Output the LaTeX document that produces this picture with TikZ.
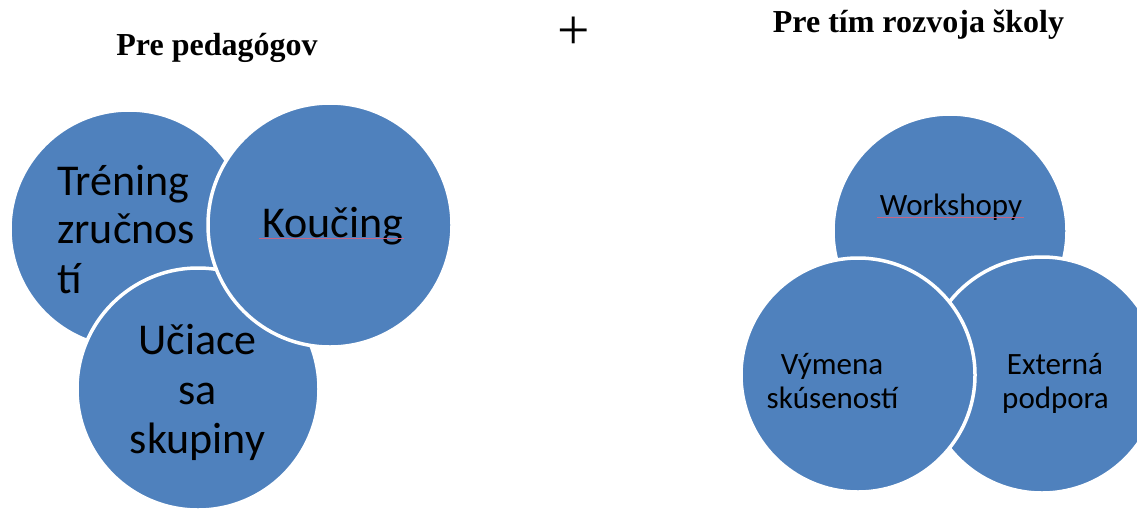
\documentclass[tikz,border=0pt]{standalone}
\usepackage{fontspec}
\setmainfont{Liberation Serif}
\newfontfamily\calib{Carlito}
\definecolor{bubble}{HTML}{4F81BD}
\definecolor{squig}{RGB}{200,100,130}
\begin{document}
\begin{tikzpicture}[x=1pt,y=-1pt,
  bub/.style={circle,fill=bubble,draw=white,line width=3.5pt,inner sep=0pt,outer sep=0pt},
  big/.style={font=\calib\fontsize{44}{50}\selectfont,inner sep=0pt,anchor=base,text=black},
  small/.style={font=\calib\fontsize{31}{34}\selectfont,inner sep=0pt,anchor=base,text=black},
  title/.style={font=\bfseries\fontsize{32}{36}\selectfont,inner sep=0pt,anchor=base},
  spell/.style={draw=squig,line width=0.5pt}]
\useasboundingbox (0,0) rectangle (1137,509);
\clip (0,0) rectangle (1137,509);
% titles
\node[title] (t1) at (217,55) {Pre pedagógov};
\node[title] (t2) at (918.5,32) {Pre tím rozvoja školy};
\node[font=\fontsize{57.5}{60}\selectfont,inner sep=0pt,anchor=base] (plus) at (573.5,49) {+};
% left group
\node[bub,minimum size=238pt] (tren) at (129,229) {};
\node[bub,minimum size=242pt] (uc) at (198,389) {};
\node[bub,minimum size=244pt] (kou) at (330,225) {};
\node[big,anchor=base west] (tren1) at (57,195) {Tréning};
\node[big,anchor=base west] (tren2) at (57,243) {zručnos};
\node[big,anchor=base west] (tren3) at (57,293) {tí};
\node[big] (kou1) at (333,237) {Koučing};
\coordinate (ks) at (259,238);
\coordinate (ke) at (404,238);
\draw[spell] (ks) -- (ke);
\node[big] (uc1) at (197.5,354) {Učiace};
\node[big] (uc2) at (197.5,404) {sa};
\node[big] (uc3) at (197.5,453) {skupiny};
% right group
\node[bub,minimum size=234pt] (work) at (950,231) {};
\node[bub,minimum size=236pt] (ext) at (1042,375) {};
\node[bub,minimum size=234pt] (vym) at (858,375) {};
\node[small] (work1) at (951,215) {Workshopy};
\coordinate (ws) at (877,217);
\coordinate (we) at (1024,217);
\draw[spell] (ws) -- (we);
\node[small] (vym1) at (832,374) {Výmena};
\node[small] (vym2) at (832.5,408) {skúseností};
\node[small] (ext1) at (1055,374) {Externá};
\node[small] (ext2) at (1055.5,408) {podpora};
\end{tikzpicture}
\end{document}
